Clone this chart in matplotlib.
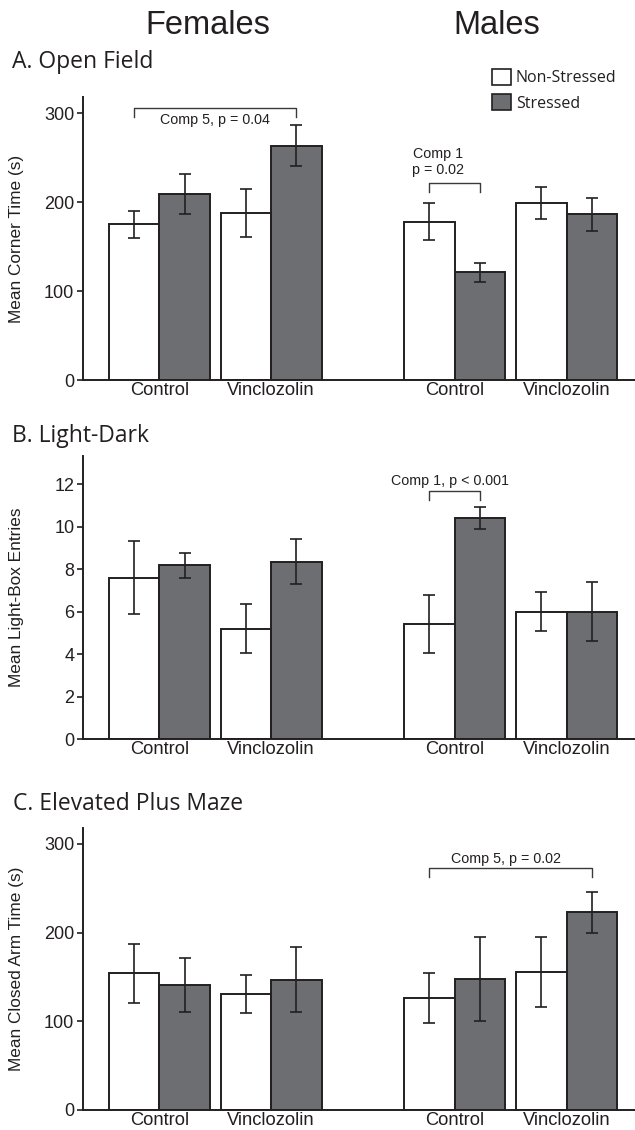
import matplotlib
matplotlib.use('Agg')
import matplotlib.pyplot as plt
from matplotlib.patches import Patch

# data: order is Females-Control, Females-Vinclozolin, Males-Control, Males-Vinclozolin
groups = ['Control', 'Vinclozolin', 'Control', 'Vinclozolin']
sexes = ['Females', 'Males']

of_ns = [175, 188, 178, 199]
of_ns_err = [15, 27, 21, 18]
of_s = [209, 263, 121, 186]
of_s_err = [23, 23, 11, 19]

ld_ns = [7.6, 5.2, 5.4, 6.0]
ld_ns_err = [1.7, 1.15, 1.37, 0.9]
ld_s = [8.17, 8.35, 10.42, 6.0]
ld_s_err = [0.6, 1.05, 0.52, 1.4]

epm_ns = [154, 130.5, 126, 155.6]
epm_ns_err = [33.6, 21.4, 28.4, 40]
epm_s = [141, 147, 147.7, 223]
epm_s_err = [30.6, 37, 47, 23]

W, H = 635, 1130
DARK = '#231f20'
GRAY = '#6d6e71'
ARIAL = 'Liberation Sans'
MYRIAD = 'Open Sans'

# group centres in units of bar width
xpos = [1.511, 3.723, 7.356, 9.574]
bw = 1.0


def make_axes(fig, top_px, bottom_px):
    ax = fig.add_axes([83 / W, 1 - bottom_px / H, 552 / W, (bottom_px - top_px) / H])
    return ax


def draw_panel(ax, ns, ns_err, s, s_err, ylim, yticks, ylabel):
    x_ns = [x - bw / 2 for x in xpos]
    x_s = [x + bw / 2 for x in xpos]
    ekw = dict(ecolor=DARK, elinewidth=1.2, capsize=4.3, capthick=1.2)
    ax.bar(x_ns, ns, bw, yerr=ns_err, color='white', edgecolor=DARK,
           linewidth=1.4, error_kw=ekw, zorder=2)
    ax.bar(x_s, s, bw, yerr=s_err, color=GRAY, edgecolor=DARK,
           linewidth=1.4, error_kw=ekw, zorder=2)
    ax.set_xlim(0, 10.93)
    ax.set_ylim(*ylim)
    ax.set_yticks(yticks)
    ax.set_xticks(xpos)
    ax.set_xticklabels(groups, fontsize=13.2, family=ARIAL, color='#231f20')
    for lab in ax.get_yticklabels():
        lab.set_fontsize(13)
        lab.set_family(ARIAL)
        lab.set_color(DARK)
    ax.tick_params(axis='x', length=0, pad=1.5)
    ax.tick_params(axis='y', length=4.3, width=1.2, color=DARK, pad=2)
    for side in ['top', 'right']:
        ax.spines[side].set_visible(False)
    for side in ['left', 'bottom']:
        ax.spines[side].set_linewidth(1.4)
        ax.spines[side].set_color(DARK)
    ax.set_ylabel(ylabel, fontsize=12.4, family=ARIAL, color=DARK)
    ax.yaxis.set_label_coords(-0.106, 0.5)
    return x_ns, x_s


def bracket(ax, x1, x2, y, drop, text, tx, ty):
    ax.plot([x1, x1, x2, x2], [y - drop, y, y, y - drop], color='#3a3a3a',
            lw=1.0, zorder=3)
    ax.text(tx, ty, text, ha='center', va='center', fontsize=10.3,
            family=ARIAL, color=DARK, linespacing=1.25)


fig = plt.figure(figsize=(W / 100, H / 100), dpi=100)

# A. Open Field
axA = make_axes(fig, 97, 380)
xa_ns, xa_s = draw_panel(axA, of_ns, of_ns_err, of_s, of_s_err, (0, 318),
                         [0, 100, 200, 300], 'Mean Corner Time (s)')
bracket(axA, xa_ns[0], xa_s[1], 306, 10, 'Comp 5, p = 0.04', 2.61, 292.5)
bracket(axA, xa_ns[2], xa_s[2], 221.6, 10, 'Comp 1\np = 0.02', 7.03, 245)

# B. Light-Dark
axB = make_axes(fig, 456, 739)
xb_ns, xb_s = draw_panel(axB, ld_ns, ld_ns_err, ld_s, ld_s_err, (0, 13.32),
                         [0, 2, 4, 6, 8, 10, 12], 'Mean Light-Box Entries')
bracket(axB, xb_ns[2], xb_s[2], 11.67, 0.42, 'Comp 1, p < 0.001', 7.27, 12.16)

# C. Elevated Plus Maze
axC = make_axes(fig, 828, 1110)
xc_ns, xc_s = draw_panel(axC, epm_ns, epm_ns_err, epm_s, epm_s_err, (0, 318),
                         [0, 100, 200, 300], 'Mean Closed Arm Time (s)')
bracket(axC, xc_ns[2], xc_s[3], 273.3, 11, 'Comp 5, p = 0.02', 8.376, 283)

# headers
fig.text(207.5 / W, 1 - 26 / H, sexes[0], ha='center', va='center',
         fontsize=23.5, family=ARIAL, color=DARK)
fig.text(496.6 / W, 1 - 26 / H, sexes[1], ha='center', va='center',
         fontsize=23.5, family=ARIAL, color=DARK)

fig.text(12 / W, 1 - 67.7 / H, 'A. Open Field', ha='left', va='baseline',
         fontsize=16.5, family=MYRIAD, color=DARK)
fig.text(12 / W, 1 - 441.7 / H, 'B. Light-Dark', ha='left', va='baseline',
         fontsize=16.5, family=MYRIAD, color=DARK)
fig.text(13 / W, 1 - 810 / H, 'C. Elevated Plus Maze', ha='left', va='baseline',
         fontsize=16.5, family=MYRIAD, color=DARK)

# legend
handles = [Patch(facecolor='white', edgecolor=DARK, linewidth=1.2),
           Patch(facecolor=GRAY, edgecolor=DARK, linewidth=1.2)]
leg = fig.legend(handles, ['Non-Stressed', 'Stressed'], loc='upper left',
                 bbox_to_anchor=(492 / W, 1 - 69 / H), bbox_transform=fig.transFigure,
                 frameon=False, borderpad=0, borderaxespad=0,
                 handlelength=1.19, handleheight=1.16, handletextpad=0.3,
                 labelspacing=0.5, prop={'family': MYRIAD, 'size': 11.5})
for t in leg.get_texts():
    t.set_color(DARK)

fig.savefig('out.png', dpi=100)
